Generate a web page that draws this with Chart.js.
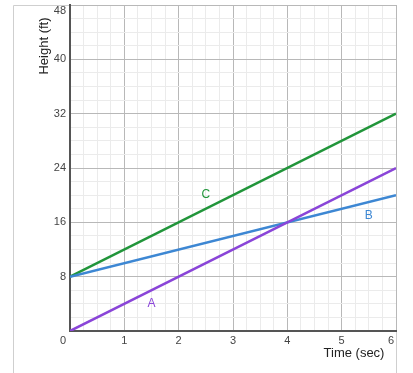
<!DOCTYPE html>
<html>
<head>
<meta charset="utf-8">
<script src="https://cdn.jsdelivr.net/npm/chart.js@4"></script>
<style>
  html, body { margin: 0; padding: 0; background: #fff; }
  #wrap { width: 413px; height: 373px; }
</style>
</head>
<body>
<div id="wrap"><canvas id="chart" width="413" height="373"></canvas></div>
<script>
// Series data (time in sec, height in ft)
const timeValues = [0, 6];
const seriesA = [0, 24];
const seriesB = [8, 20];
const seriesC = [8, 32];

const seriesNames = ['A', 'B', 'C'];
const seriesColors = ['#8a45d8', '#3d87d3', '#21953a'];

// where the letter labels sit (data coords)
const labelTimes = [1.5, 5.5, 2.5];
const labelHeights = [4, 17, 20];

const xTickLabels = ['0', '1', '2', '3', '4', '5', '6'];
const yTickLabels = ['8', '16', '24', '32', '40', '48'];

const FONT = '"Liberation Sans", Arial, sans-serif';

function toPoints(ys) {
    return timeValues.map((t, i) => ({ x: t, y: ys[i] }));
}

// frame, tick labels, axis titles and series letters
const decorPlugin = {
    id: 'decor',
    beforeDraw(chart) {
        const ctx = chart.ctx;
        const area = chart.chartArea;
        ctx.save();
        ctx.strokeStyle = '#cfcfcf';
        ctx.lineWidth = 1;
        ctx.beginPath();
        ctx.moveTo(13.5, 380);
        ctx.lineTo(13.5, area.top + 0.5);
        ctx.lineTo(area.right + 0.5, area.top + 0.5);
        ctx.lineTo(area.right + 0.5, 380);
        ctx.stroke();
        ctx.restore();
    },
    afterDraw(chart) {
        const ctx = chart.ctx;
        const xs = chart.scales.x;
        const ys = chart.scales.y;
        ctx.save();
        ctx.font = '11px ' + FONT;
        ctx.fillStyle = '#444';
        ctx.textBaseline = 'middle';

        // y tick labels
        ctx.textAlign = 'right';
        yTickLabels.forEach(lbl => {
            let py = ys.getPixelForValue(Number(lbl));
            if (py < ys.top + 6) py = ys.top + 6;
            ctx.fillText(lbl, xs.left - 4, py);
        });

        // x tick labels
        ctx.textAlign = 'center';
        xTickLabels.forEach(lbl => {
            let px = xs.getPixelForValue(Number(lbl));
            if (lbl === '0') px -= 7;
            if (px > xs.right - 5) px = xs.right - 5;
            ctx.fillText(lbl, px, ys.bottom + 10);
        });

        // axis titles
        ctx.font = '13px ' + FONT;
        ctx.fillStyle = '#222';
        ctx.textAlign = 'center';
        ctx.fillText('Time (sec)', xs.right - 42, ys.bottom + 22);
        ctx.save();
        ctx.translate(44, 46);
        ctx.rotate(-Math.PI / 2);
        ctx.fillText('Height (ft)', 0, 0);
        ctx.restore();

        // series letters
        ctx.font = '12px ' + FONT;
        seriesNames.forEach((name, i) => {
            ctx.fillStyle = seriesColors[i];
            ctx.fillText(name, xs.getPixelForValue(labelTimes[i]), ys.getPixelForValue(labelHeights[i]));
        });
        ctx.restore();
    }
};

const ctx = document.getElementById('chart').getContext('2d');
new Chart(ctx, {
    type: 'scatter',
    data: {
        datasets: [seriesA, seriesB, seriesC].map((vals, i) => ({
            label: seriesNames[i],
            data: toPoints(vals),
            showLine: true,
            borderColor: seriesColors[i],
            borderWidth: 2.5,
            pointRadius: 0,
            fill: false
        }))
    },
    options: {
        responsive: false,
        animation: false,
        events: [],
        layout: { padding: { top: 5, right: 17, left: 0, bottom: 0 } },
        plugins: {
            legend: { display: false },
            tooltip: { enabled: false }
        },
        scales: {
            x: {
                type: 'linear',
                min: 0,
                max: 6,
                afterFit: s => { s.height = 42; },
                ticks: { stepSize: 0.25, display: false },
                grid: {
                    drawTicks: false,
                    color: c => (c.tick.value % 1 === 0 ? '#b8b8b8' : '#ebebeb'),
                    lineWidth: 1
                },
                border: { color: '#555', width: 2 }
            },
            y: {
                type: 'linear',
                min: 0,
                max: 48,
                afterFit: s => { s.width = 70; },
                ticks: { stepSize: 2, display: false },
                grid: {
                    drawTicks: false,
                    color: c => (c.tick.value % 8 === 0 ? '#b8b8b8' : '#ebebeb'),
                    lineWidth: 1
                },
                border: { color: '#555', width: 2 }
            }
        }
    },
    plugins: [decorPlugin]
});
</script>
</body>
</html>
